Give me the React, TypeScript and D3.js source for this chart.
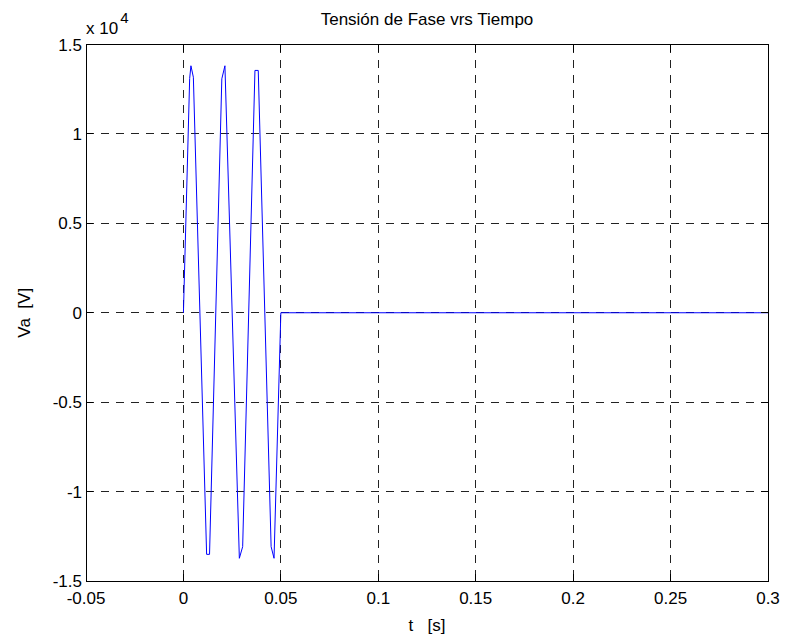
import React from "react";
import * as d3 from "d3";

const timeS = [0, 0.0032, 0.00385, 0.0051, 0.0119, 0.0134, 0.0197, 0.0213, 0.0287, 0.0304, 0.0367, 0.0384, 0.045, 0.0465, 0.05, 0.3];
const voltageV = [0, 13100, 13810, 13170, -13510, -13510, 13080, 13810, -13730, -13080, 13550, 13550, -13080, -13730, 0, 0];
const xTicks = [-0.05, 0, 0.05, 0.1, 0.15, 0.2, 0.25, 0.3];
const xTickLabels = ["-0.05", "0", "0.05", "0.1", "0.15", "0.2", "0.25", "0.3"];
const yTicks = [-15000, -10000, -5000, 0, 5000, 10000, 15000];
const yTickLabels = ["-1.5", "-1", "-0.5", "0", "0.5", "1", "1.5"];

const W = 785;
const H = 637;
const left = 86;
const right = 768;
const top = 44.5;
const bottom = 581;
const font = "'Liberation Sans', Arial, Helvetica, sans-serif";
const fs = 17;

export default function App() {
  const x = d3.scaleLinear().domain([-0.05, 0.3]).range([left, right]);
  const y = d3.scaleLinear().domain([-15000, 15000]).range([bottom, top]);
  const pts = timeS.map((t, i) => [t, voltageV[i]] as [number, number]);
  const line = d3.line<[number, number]>().x((d) => x(d[0])).y((d) => y(d[1]));
  const tickLen = 7;

  return (
    <div style={{ position: "absolute", left: 0, top: 0 }}>
      <svg width={W} height={H} style={{ display: "block", background: "#fff" }}>
        <rect x={0} y={0} width={W} height={H} fill="#fff" />
        {/* grid */}
        {xTicks.slice(1, -1).map((t) => (
          <line key={"gx" + t} x1={x(t)} x2={x(t)} y1={top} y2={bottom} stroke="#222" strokeWidth={1} strokeDasharray="8,7" shapeRendering="crispEdges" />
        ))}
        {yTicks.slice(1, -1).map((v) => (
          <line key={"gy" + v} x1={left} x2={right} y1={y(v)} y2={y(v)} stroke="#222" strokeWidth={1} strokeDasharray="8,7" shapeRendering="crispEdges" />
        ))}
        {/* data */}
        <path d={line(pts) || ""} fill="none" stroke="#0000ff" strokeWidth={1} />
        {/* box */}
        <rect x={left} y={top} width={right - left} height={bottom - top} fill="none" stroke="#000" strokeWidth={1} shapeRendering="crispEdges" />
        {/* ticks */}
        {xTicks.map((t) => (
          <g key={"tx" + t}>
            <line x1={x(t)} x2={x(t)} y1={bottom} y2={bottom - tickLen} stroke="#000" shapeRendering="crispEdges" />
            <line x1={x(t)} x2={x(t)} y1={top} y2={top + tickLen} stroke="#000" shapeRendering="crispEdges" />
          </g>
        ))}
        {yTicks.map((v) => (
          <g key={"ty" + v}>
            <line x1={left} x2={left + tickLen} y1={y(v)} y2={y(v)} stroke="#000" shapeRendering="crispEdges" />
            <line x1={right} x2={right - tickLen} y1={y(v)} y2={y(v)} stroke="#000" shapeRendering="crispEdges" />
          </g>
        ))}
        {/* tick labels */}
        {xTicks.map((t, i) => (
          <text key={"lx" + t} x={x(t)} y={bottom + 23} textAnchor="middle" fontFamily={font} fontSize={fs} fill="#000">
            {xTickLabels[i]}
          </text>
        ))}
        {yTicks.map((v, i) => (
          <text key={"ly" + v} x={left - 4} y={y(v) + 6} textAnchor="end" fontFamily={font} fontSize={fs} fill="#000">
            {yTickLabels[i]}
          </text>
        ))}
        {/* exponent */}
        <text x={86} y={34} fontFamily={font} fontSize={fs} fill="#000" style={{ whiteSpace: "pre" }}>
          {"x 10"}
          <tspan dx={2} dy={-11} fontSize={15}>4</tspan>
        </text>
        {/* title */}
        <text x={(left + right) / 2} y={25} textAnchor="middle" fontFamily={font} fontSize={fs} fill="#000">
          Tensión de Fase vrs Tiempo
        </text>
        {/* axis labels */}
        <text x={(left + right) / 2} y={631} textAnchor="middle" fontFamily={font} fontSize={fs} fill="#000" style={{ whiteSpace: "pre" }}>
          {"t   [s]"}
        </text>
        <text transform={`translate(30,${(top + bottom) / 2}) rotate(-90)`} textAnchor="middle" fontFamily={font} fontSize={fs} fill="#000" style={{ whiteSpace: "pre" }}>
          {"Va  [V]"}
        </text>
      </svg>
    </div>
  );
}
